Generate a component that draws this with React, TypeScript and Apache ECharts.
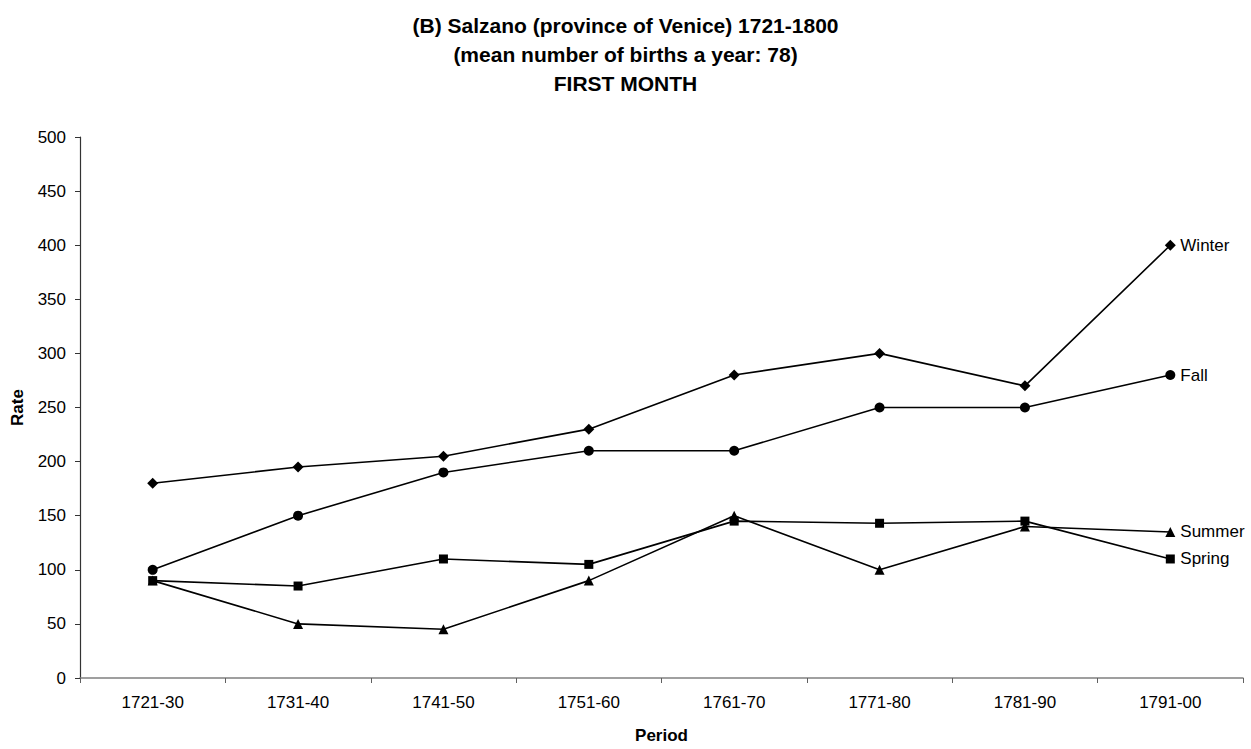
import React, { useEffect, useRef } from "react";
import * as echarts from "echarts";

const categories = ["1721-30", "1731-40", "1741-50", "1751-60", "1761-70", "1771-80", "1781-90", "1791-00"];
const winter = [180, 195, 205, 230, 280, 300, 270, 400];
const fall = [100, 150, 190, 210, 210, 250, 250, 280];
const summer = [90, 50, 45, 90, 150, 100, 140, 135];
const spring = [90, 85, 110, 105, 145, 143, 145, 110];
const titleLines = [
  "(B) Salzano (province of Venice) 1721-1800",
  "(mean number of births a year: 78)",
  "FIRST MONTH",
];

const FONT = "'Liberation Sans', Arial, sans-serif";

export default function App() {
  const ref = useRef<HTMLDivElement>(null);
  useEffect(() => {
    document.body.style.margin = "0";
    if (!ref.current) return;
    const chart = echarts.init(ref.current, null, { renderer: "svg" });
    const mk = (name: string, data: number[], symbol: string, size: number) => ({
      name,
      type: "line",
      data,
      symbol,
      symbolSize: size,
      showAllSymbol: true,
      lineStyle: { color: "#000", width: 1.6 },
      itemStyle: { color: "#000" },
      endLabel: {
        show: true,
        formatter: "{a}",
        distance: 10,
        color: "#000",
        fontSize: 17,
        fontFamily: FONT,
      },
      emphasis: { disabled: true },
    });
    chart.setOption({
      animation: false,
      backgroundColor: "#fff",
      textStyle: { fontFamily: FONT },
      title: {
        text: titleLines.join("\n"),
        left: "center",
        top: 6,
        textStyle: { fontFamily: FONT, fontWeight: "bold", fontSize: 21, lineHeight: 29, color: "#000" },
      },
      grid: { left: 80, right: 8, top: 137, bottom: 63, containLabel: false },
      xAxis: {
        type: "category",
        data: categories,
        boundaryGap: true,
        name: "Period",
        nameLocation: "middle",
        nameGap: 49,
        nameTextStyle: { fontFamily: FONT, fontWeight: "bold", fontSize: 17, color: "#000" },
        axisLine: { lineStyle: { color: "#808080", width: 1.5 } },
        axisTick: { show: true, length: 5, lineStyle: { color: "#606060" } },
        axisLabel: { color: "#000", fontSize: 17, margin: 16, fontFamily: FONT },
        splitLine: { show: false },
      },
      yAxis: {
        type: "value",
        min: 0,
        max: 500,
        interval: 50,
        name: "Rate",
        nameLocation: "middle",
        nameGap: 54,
        nameTextStyle: { fontFamily: FONT, fontWeight: "bold", fontSize: 17, color: "#000" },
        axisLine: { show: true, lineStyle: { color: "#333", width: 1.2 } },
        axisTick: { show: true, length: 5, lineStyle: { color: "#333" } },
        axisLabel: { color: "#000", fontSize: 17, margin: 14, fontFamily: FONT },
        splitLine: { show: false },
      },
      series: [
        mk("Winter", winter, "diamond", 11),
        mk("Fall", fall, "circle", 10),
        mk("Summer", summer, "triangle", 10),
        mk("Spring", spring, "rect", 9),
      ],
    });
    return () => chart.dispose();
  }, []);
  return <div ref={ref} style={{ width: 1251, height: 749 }} />;
}
